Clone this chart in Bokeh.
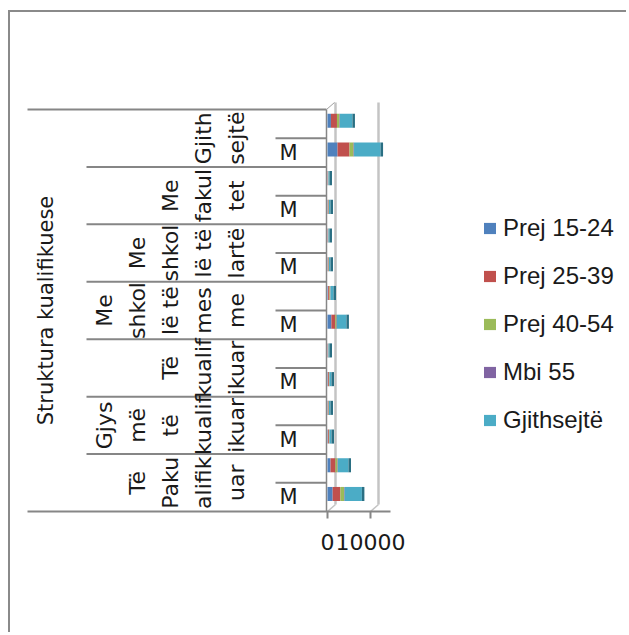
from math import pi
from bokeh.plotting import figure
from bokeh.models import ColumnDataSource, Range1d, FixedTicker, Legend, LegendItem
from bokeh.core.properties import value
from bokeh.embed import file_html
from bokeh.resources import INLINE

# ---------------- data (bands listed bottom to top: M, then unlabeled) -------------
groups = ["Të Pakualifikuar", "Gjysmë të kualifikuar", "Të kualifikuar",
          "Me shkollë të mesme", "Me shkollë të lartë", "Me fakultet", "Gjithsejtë"]
group_lines = [["Të", "Paku", "alifik", "uar"],
               ["Gjys", "më", "të", "kualif", "ikuar"],
               ["Të", "kualif", "ikuar"],
               ["Me", "shkol", "lë të", "mes", "me"],
               ["Me", "shkol", "lë të", "lartë"],
               ["Me", "fakul", "tet"],
               ["Gjith", "sejtë"]]
sub_labels = ["M", ""]
series = ["Prej 15-24", "Prej 25-39", "Prej 40-54", "Mbi 55", "Gjithsejtë"]
prej_15_24 = [1200, 700, 90, 70, 90, 45, 900, 150, 70, 45, 70, 45, 2330, 800]
prej_25_39 = [1800, 1160, 230, 170, 230, 110, 900, 320, 170, 110, 170, 110, 2790, 1400]
prej_40_54 = [850, 470, 110, 85, 110, 55, 300, 170, 85, 55, 85, 55, 930, 580]
mbi_55 = [150, 110, 35, 25, 35, 20, 100, 60, 25, 20, 25, 20, 120, 120]
gjithsejte = [4000, 2440, 465, 350, 465, 230, 2200, 700, 350, 230, 350, 230, 6170, 2900]
x_ticks = [0, 10000]
axis_title = "Struktura kualifikuese"

# ---------------- styling / layout -------------
colors = ["#4F81BD", "#C0504D", "#9BBB59", "#8064A2", "#4BACC6"]
side_color = "#2A6F83"
GRAY = "#868686"
GRID = "#C4C4C4"
TXT = "#1a1a1a"

W, H = 618, 622
CX, CY = 10, 12          # page position of canvas
FRAME_H = 511 - CY
BAND = 402 / 14          # px per band
ZERO = 327               # page x of value 0
U = 10000 / 43           # value units per px
DEPTH_X, DEPTH_Y = 8, 7  # 3d depth offset in px

x_start = -(ZERO - CX) * U
x_end = x_start + W * U
y_end = FRAME_H / BAND

p = figure(width=W, height=H, x_range=Range1d(x_start, x_end), y_range=Range1d(0, y_end),
           toolbar_location=None, output_backend="svg", y_axis_location=None,
           min_border_left=0, min_border_right=0, min_border_top=0,
           min_border_bottom=H - FRAME_H)
p.outline_line_color = None
p.grid.visible = False
p.background_fill_color = "white"
p.styles = {"border-left": "2px solid #8a8a8a", "border-top": "2px solid #8a8a8a",
            "margin-top": "10px", "margin-left": "8px"}
p.extra_x_ranges = {"px": Range1d(CX, CX + W),
                    "back": Range1d(x_start - DEPTH_X * U, x_end - DEPTH_X * U)}

nb = 2 * len(groups)
dy = DEPTH_Y / BAND

# back wall grid lines and floor diagonals
p.segment(x0=x_ticks, y0=[dy] * len(x_ticks), x1=x_ticks, y1=[nb + dy] * len(x_ticks),
          x_range_name="back", line_color=GRID, line_width=2.5)
fx = [ZERO + t / U for t in x_ticks]
p.segment(x0=fx, y0=[0] * len(fx), x1=[v + DEPTH_X for v in fx], y1=[dy] * len(fx),
          x_range_name="px", line_color=GRID, line_width=1.5)
# front wall edge and top corner
p.segment(x0=[ZERO - 1], y0=[0], x1=[ZERO - 1], y1=[nb], x_range_name="px",
          line_color=GRAY, line_width=1.5)
p.segment(x0=[ZERO - 1], y0=[nb], x1=[ZERO - 1 + DEPTH_X], y1=[nb + dy], x_range_name="px",
          line_color="#A0A0A0", line_width=1)

# bars
bar_y = [k + 0.61 for k in range(nb)]
keys = ["s0", "s1", "s2", "s3", "s4"]
src = ColumnDataSource(dict(y=bar_y, s0=prej_15_24, s1=prej_25_39, s2=prej_40_54,
                            s3=mbi_55, s4=gjithsejte))
rs = p.hbar_stack(keys, y="y", height=0.49, color=colors, source=src, line_color=None)
totals = [a + b + c + d + e for a, b, c, d, e in
          zip(prej_15_24, prej_25_39, prej_40_54, mbi_55, gjithsejte)]
p.hbar(y=bar_y, left=totals, right=[t + 2.5 * U for t in totals], height=0.49,
       color=side_color, line_color=None)

# category separators
inner_y = [2 * g for g in range(1, len(groups))]
p.segment(x0=[86] * len(inner_y), y0=inner_y, x1=[ZERO - 1] * len(inner_y), y1=inner_y,
          x_range_name="px", line_color=GRAY, line_width=2)
p.segment(x0=[27], y0=[nb], x1=[ZERO - 1], y1=[nb], x_range_name="px",
          line_color=GRAY, line_width=2)
sub_y = [2 * g + 1 for g in range(len(groups))]
p.segment(x0=[275] * len(sub_y), y0=sub_y, x1=[ZERO - 1] * len(sub_y), y1=sub_y,
          x_range_name="px", line_color=GRAY, line_width=2)

# group labels (rotated, wrapped into columns)
gx, gy, gt = [], [], []
for g, lines in enumerate(group_lines):
    n = len(lines)
    for i, t in enumerate(lines):
        gx.append(236 - (n - 1 - i) * 33)
        gy.append(2 * g + 1)
        gt.append(t)
p.text(x=gx, y=gy, text=gt, angle=pi / 2, x_range_name="px",
       text_font=value("DejaVu Sans"), text_font_size="22px",
       text_align="center", text_baseline="middle", text_color=TXT)

# sub labels
sx, sy, st = [], [], []
for g in range(len(groups)):
    for j, lab in enumerate(sub_labels):
        sx.append(288)
        sy.append(2 * g + j + 0.5)
        st.append(lab)
p.text(x=sx, y=sy, text=st, x_range_name="px", text_font=value("DejaVu Sans"),
       text_font_size="21px", text_align="center", text_baseline="middle", text_color=TXT)

# axis title
p.text(x=[45], y=[nb / 2], text=[axis_title], angle=pi / 2, x_range_name="px",
       text_font=value("DejaVu Sans"), text_font_size="21px",
       text_align="center", text_baseline="middle", text_color=TXT)

# x axis
xa = p.xaxis[0]
xa.ticker = FixedTicker(ticks=x_ticks)
xa.bounds = ((27 - ZERO) * U, 14700)
xa.axis_line_color = GRAY
xa.axis_line_width = 2
xa.major_tick_out = 7
xa.major_tick_in = 0
xa.minor_tick_out = 0
xa.minor_tick_in = 0
xa.major_tick_line_color = GRAY
xa.major_tick_line_width = 2
xa.major_label_text_font = "DejaVu Sans"
xa.major_label_text_font_size = "22px"
xa.major_label_text_color = TXT
xa.major_label_standoff = 15

legend = Legend(items=[LegendItem(label=s, renderers=[r]) for s, r in zip(series, rs)],
                location=(472, 77), orientation="vertical", padding=0, margin=0,
                spacing=20, glyph_width=15, glyph_height=14, label_height=24,
                label_standoff=6, label_text_font="Liberation Sans",
                label_text_font_size="24px", label_text_color=TXT,
                border_line_color=None, background_fill_alpha=0)
p.add_layout(legend)

open("out.html", "w").write(file_html(p, INLINE))
